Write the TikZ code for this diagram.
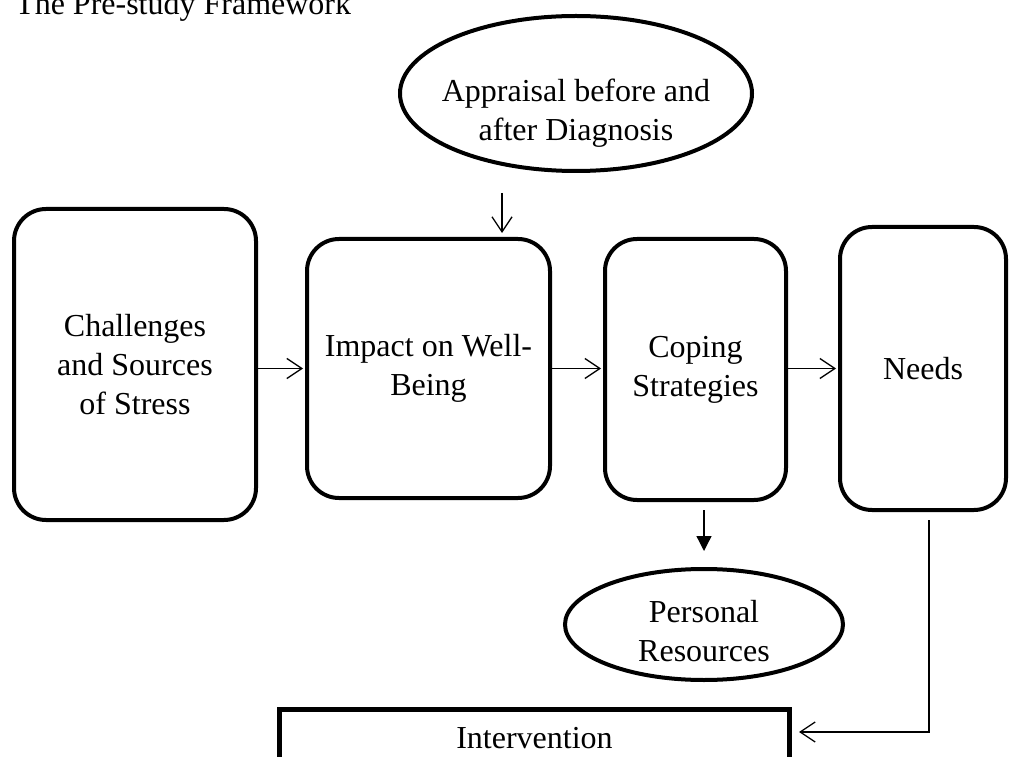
\documentclass[tikz,border=0pt]{standalone}
\usepackage{fontspec}
\setmainfont{Liberation Serif}
\usetikzlibrary{arrows.meta,shapes.geometric,calc}
\begin{document}
\begin{tikzpicture}[x=1pt,y=1pt,
 txt/.style={font=\fontsize{32}{39}\selectfont,align=center},
 box/.style={draw,line width=4pt,rounded corners=32pt,inner sep=0pt,txt},
 oval/.style={draw,ellipse,line width=4pt,inner sep=0pt},
 arr/.style={line width=1.3pt,-{Straight Barb[length=15pt,width=20pt]}},
 farr/.style={line width=1.3pt,-{Triangle[length=15pt,width=15pt]}}]
\useasboundingbox (0,0) rectangle (1012,756);
\node[txt,anchor=base west,inner sep=0pt] (title) at (15,741) {The Pre-study Framework};
\node[box,minimum width=242pt,minimum height=311pt] (b1) at (135,391.5) {Challenges\\and Sources\\of Stress};
\node[box,minimum width=243pt,minimum height=259pt] (b2) at (428.5,387.5) {Impact on Well-\\Being};
\node[box,minimum width=181pt,minimum height=261pt] (cs) at (695.5,386.5) {Coping\\Strategies};
\node[box,minimum width=166pt,minimum height=283pt] (nd) at (923,387.5) {Needs};
\node[oval,minimum width=352pt,minimum height=155pt,
  label={[txt,yshift=-20pt]center:Appraisal before and\\after Diagnosis}] (ap) at (576,662.5) {};
\node[oval,minimum width=278pt,minimum height=111pt,
  label={[txt,yshift=-7pt]center:Personal\\Resources}] (pr) at (704,131.5) {};
\node[draw,line width=5pt,minimum width=510pt,minimum height=58pt,inner sep=0pt,txt] (iv) at (534.5,17.5) {Intervention};
\draw[arr,shorten >=2pt] (b1.east |- b2.west) -- (b2.west);
\draw[arr,shorten >=2pt] (b2.east) -- (b2.east -| cs.west);
\draw[arr,shorten >=2pt] (cs.east |- nd.west) -- (nd.west);
\coordinate (a0) at (502,563);
\draw[arr,shorten >=4pt] (a0) -- (a0 |- b2.north);
\draw[farr,shorten <=8pt,shorten >=16pt] (pr.north |- cs.south) -- (pr.north);
\coordinate (c1) at (929,24);
\draw[arr,shorten <=8pt,shorten >=7pt] (c1 |- nd.south) -- (c1) -- (iv.east |- c1);
\end{tikzpicture}
\end{document}
